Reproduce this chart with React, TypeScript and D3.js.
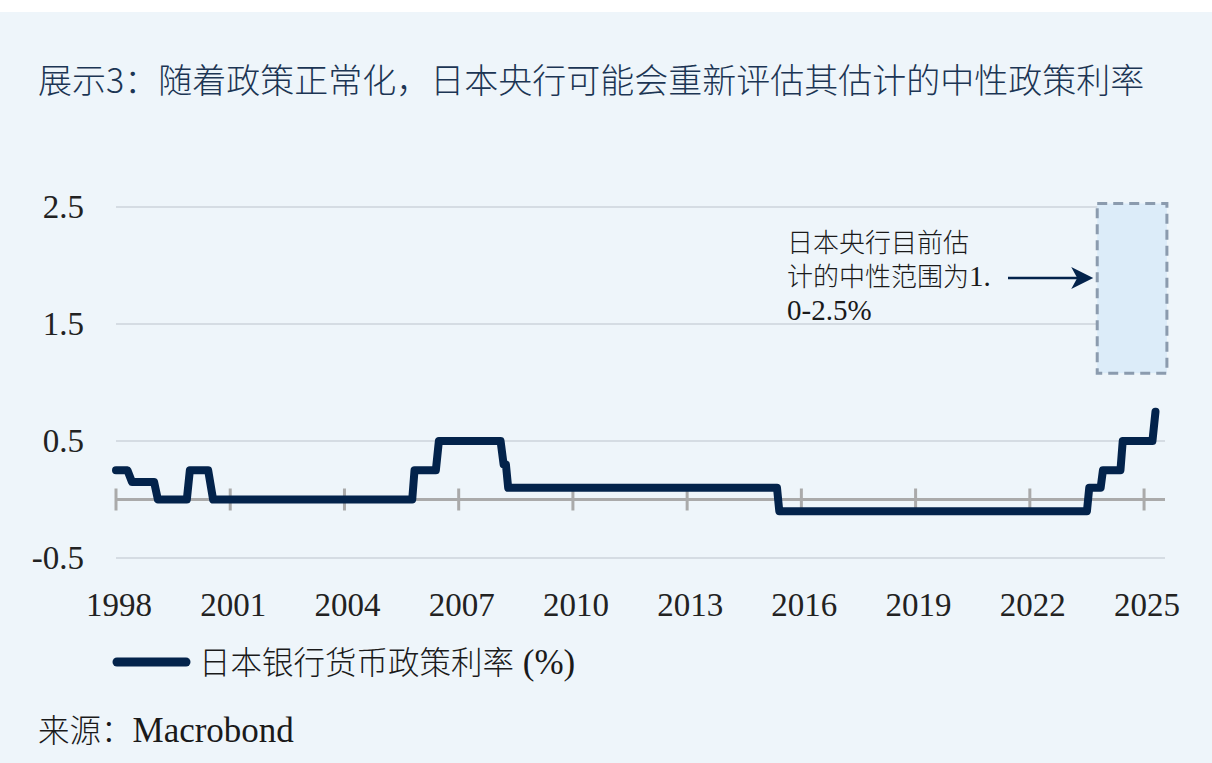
import React, { useEffect, useRef } from 'react'
import * as d3 from 'd3'

const titleText = '展示3：随着政策正常化，日本央行可能会重新评估其估计的中性政策利率'
// [text, isLatin] pieces so the latin bits can use the serif face
const seriesName: [string, boolean][] = [['日本银行货币政策利率', false], [' (%)', true]]
const sourceText: [string, boolean][] = [['来源：', false], ['Macrobond', true]]
const noteLines: [string, boolean][][] = [
  [['日本央行目前估', false]],
  [['计的中性范围为', false], ['1.', true]],
  [['0-2.5%', true]]
]

// decimal year / policy rate (%)
const rateYears = [
  1998.0, 1998.3, 1998.42, 1999.0, 1999.1, 1999.86, 1999.94, 2000.42, 2000.55,
  2005.78, 2005.84, 2006.4, 2006.48, 2008.1, 2008.18, 2008.24, 2008.3,
  2015.36, 2015.42, 2023.5, 2023.56, 2023.86, 2023.92, 2024.38, 2024.44, 2025.22, 2025.3
]
const rateValues = [
  0.25, 0.25, 0.15, 0.15, 0.0, 0.0, 0.25, 0.25, 0.0,
  0.0, 0.25, 0.25, 0.5, 0.5, 0.3, 0.3, 0.1,
  0.1, -0.1, -0.1, 0.1, 0.1, 0.25, 0.25, 0.5, 0.5, 0.75
]

const yTicks = [-0.5, 0.5, 1.5, 2.5]
const xTicks = [1998, 2001, 2004, 2007, 2010, 2013, 2016, 2019, 2022, 2025]

// neutral range box
const boxYears = [2023.77, 2025.6]
const boxRates = [1.08, 2.53]

const navy = '#03234b'
const serif = '"Liberation Serif", "DejaVu Serif", serif'
const cjk = '"Noto Sans CJK SC", "Noto Sans", sans-serif'

function mixed(el: any, parts: [string, boolean][], cjkSize: number, latinSize: number) {
  parts.forEach(([t, latin]) => {
    el.append('tspan')
      .style('font-family', latin ? serif : cjk)
      .style('font-size', (latin ? latinSize : cjkSize) + 'px')
      .style('font-weight', latin ? 400 : 300)
      .text(t)
  })
}

export default function App() {
  const ref = useRef<SVGSVGElement>(null)

  useEffect(() => {
    const svg = d3.select(ref.current)
    svg.selectAll('*').remove()

    const x = d3.scaleLinear().domain([1998, 2025.55]).range([116, 1165])
    const y = d3.scaleLinear().domain([-0.5, 2.5]).range([558, 207])

    svg.append('rect').attr('x', 0).attr('y', 12).attr('width', 1212).attr('height', 751).attr('fill', '#eef5fa')

    // title
    svg.append('text')
      .attr('x', 38).attr('y', 93)
      .style('font-family', cjk).style('font-size', '34px').style('font-weight', 300)
      .attr('fill', '#1c3554')
      .text(titleText)

    // grid
    svg.selectAll('.grid')
      .data(yTicks)
      .enter()
      .append('line')
      .attr('x1', x(1998)).attr('x2', x(2025.55))
      .attr('y1', d => y(d)).attr('y2', d => y(d))
      .attr('stroke', '#d5dce3').attr('stroke-width', 2)

    svg.selectAll('.ylab')
      .data(yTicks)
      .enter()
      .append('text')
      .attr('x', 84).attr('y', d => y(d)).attr('dy', '0.34em')
      .attr('text-anchor', 'end')
      .style('font-family', serif).style('font-size', '33px')
      .attr('fill', '#222')
      .text(d => d3.format('.1f')(d).replace('\u2212', '-'))

    // zero axis with ticks
    svg.append('line')
      .attr('x1', x(1998)).attr('x2', x(2025.55))
      .attr('y1', y(0)).attr('y2', y(0))
      .attr('stroke', '#aaaaaa').attr('stroke-width', 3)
    svg.selectAll('.xtick')
      .data(xTicks)
      .enter()
      .append('line')
      .attr('x1', d => x(d)).attr('x2', d => x(d))
      .attr('y1', y(0) - 11).attr('y2', y(0) + 11)
      .attr('stroke', '#aaaaaa').attr('stroke-width', 3)

    svg.selectAll('.xlab')
      .data(xTicks)
      .enter()
      .append('text')
      .attr('x', d => x(d) + 3).attr('y', 616)
      .attr('text-anchor', 'middle')
      .style('font-family', serif).style('font-size', '33px')
      .attr('fill', '#222')
      .text(d => String(d))

    // neutral range box
    svg.append('rect')
      .attr('x', x(boxYears[0])).attr('y', y(boxRates[1]))
      .attr('width', x(boxYears[1]) - x(boxYears[0]))
      .attr('height', y(boxRates[0]) - y(boxRates[1]))
      .attr('fill', '#dcecf9')
      .attr('stroke', '#8b9bae').attr('stroke-width', 3)
      .attr('stroke-dasharray', '10,6')

    // annotation
    noteLines.forEach((parts, i) => {
      const t = svg.append('text')
        .attr('x', 787).attr('y', 252 + i * 34)
        .attr('fill', '#1a1a1a')
      mixed(t, parts, 26, 29)
    })

    const tipX = x(boxYears[0]) - 4
    const arrowY = 278
    svg.append('line')
      .attr('x1', 1008).attr('x2', tipX - 10)
      .attr('y1', arrowY).attr('y2', arrowY)
      .attr('stroke', navy).attr('stroke-width', 2.5)
    svg.append('path')
      .attr('d', `M${tipX},${arrowY} L${tipX - 22},${arrowY - 11} L${tipX - 16},${arrowY} L${tipX - 22},${arrowY + 11} Z`)
      .attr('fill', navy)

    // policy rate line
    const pts: [number, number][] = rateYears.map((d, i) => [d, rateValues[i]])
    const line = d3.line<[number, number]>()
      .x(d => x(d[0]))
      .y(d => y(d[1]))
    svg.append('path')
      .datum(pts)
      .attr('d', line)
      .attr('fill', 'none')
      .attr('stroke', navy).attr('stroke-width', 8)
      .attr('stroke-linejoin', 'round').attr('stroke-linecap', 'round')

    // legend
    svg.append('line')
      .attr('x1', 117).attr('x2', 186).attr('y1', 662).attr('y2', 662)
      .attr('stroke', navy).attr('stroke-width', 9).attr('stroke-linecap', 'round')
    const leg = svg.append('text')
      .attr('x', 199).attr('y', 674)
      .attr('fill', '#1a1a1a')
    mixed(leg, seriesName, 31.5, 35)

    const src = svg.append('text')
      .attr('x', 38).attr('y', 742)
      .attr('fill', '#1a1a1a')
    mixed(src, sourceText, 31.5, 35)
  }, [])

  return (
    <div>
      <style>{'body{margin:0}'}</style>
      <svg ref={ref} width={1212} height={763} style={{ display: 'block' }} />
    </div>
  )
}
